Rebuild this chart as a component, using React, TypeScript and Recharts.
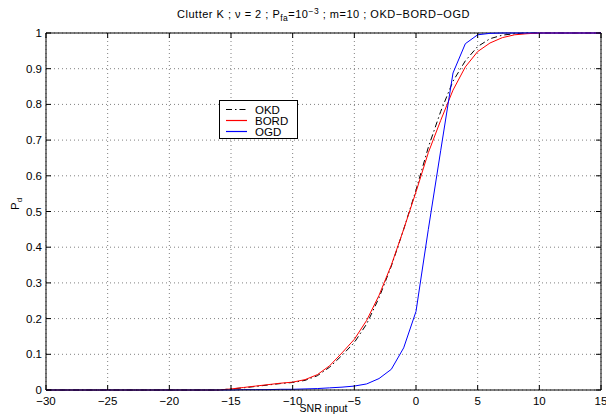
import { LineChart, Line, XAxis, YAxis, CartesianGrid, Legend, ReferenceLine } from "recharts";

// SNR input (dB)
const snr = [
  -30, -29, -28, -27, -26, -25, -24, -23, -22, -21, -20, -19, -18, -17, -16,
  -15, -14, -13, -12, -11, -10, -9, -8, -7, -6, -5, -4, -3, -2, -1,
  0, 1, 2, 3, 4, 5, 6, 7, 8, 9, 10, 11, 12, 13, 14, 15,
];

const okd = [
  0, 0, 0, 0, 0, 0, 0, 0, 0, 0, 0, 0, 0, 0, 0,
  0.003, 0.006, 0.01, 0.014, 0.018, 0.021, 0.027, 0.04, 0.064, 0.097, 0.133, 0.185, 0.258, 0.347, 0.45,
  0.56, 0.68, 0.78, 0.865, 0.922, 0.962, 0.984, 0.994, 0.998, 1, 1, 1, 1, 1, 1, 1,
];

const bord = [
  0, 0, 0, 0, 0, 0, 0, 0, 0, 0, 0, 0, 0, 0, 0,
  0.003, 0.007, 0.011, 0.015, 0.019, 0.022, 0.029, 0.043, 0.068, 0.104, 0.142, 0.195, 0.265, 0.35, 0.45,
  0.555, 0.665, 0.755, 0.84, 0.905, 0.948, 0.972, 0.987, 0.995, 0.998, 1, 1, 1, 1, 1, 1,
];

const ogd = [
  0, 0, 0, 0, 0, 0, 0, 0, 0, 0, 0, 0, 0, 0, 0,
  0, 0.001, 0.001, 0.001, 0.002, 0.002, 0.003, 0.004, 0.006, 0.008, 0.011, 0.017, 0.032, 0.058, 0.118,
  0.22, 0.45, 0.67, 0.888, 0.97, 0.995, 0.999, 1, 1, 1, 1, 1, 1, 1, 1, 1,
];

const xTicks = [-30, -25, -20, -15, -10, -5, 0, 5, 10, 15];
const yTicks = [0, 0.1, 0.2, 0.3, 0.4, 0.5, 0.6, 0.7, 0.8, 0.9, 1];

const series = [
  { key: "okd", name: "OKD", color: "#000000", dash: "6 3 1.5 3" },
  { key: "bord", name: "BORD", color: "#ff0000", dash: undefined },
  { key: "ogd", name: "OGD", color: "#0000ff", dash: undefined },
];

const data = snr.map((x, i) => ({ snr: x, okd: okd[i], bord: bord[i], ogd: ogd[i] }));

const W = 606;
const H = 414;
const X_AXIS_H = 24;
const Y_AXIS_W = 46;
const margin = { top: 33, right: 5, bottom: 0, left: 0 };
const PLOT_TOP = margin.top;
const PLOT_BOTTOM = H - margin.bottom - X_AXIS_H;
const PLOT_LEFT = margin.left + Y_AXIS_W;
const PLOT_RIGHT = W - margin.right;
const FONT = '"Liberation Sans", Arial, Helvetica, sans-serif';
const TICK_FS = 11.5;

const fmt = (v: number) => (v < 0 ? "\u2212" + Math.abs(v) : String(v));

function XTick({ x, y, payload }: any) {
  return (
    <g>
      <line x1={x} x2={x} y1={PLOT_BOTTOM} y2={PLOT_BOTTOM - 5} stroke="#000" />
      <line x1={x} x2={x} y1={PLOT_TOP} y2={PLOT_TOP + 5} stroke="#000" />
      <text x={x} y={y} dy="0.71em" textAnchor="middle" fontSize={TICK_FS} fontFamily={FONT} fill="#000">
        {fmt(payload.value)}
      </text>
    </g>
  );
}

function YTick({ x, y, payload }: any) {
  return (
    <g>
      <line x1={PLOT_LEFT} x2={PLOT_LEFT + 5} y1={y} y2={y} stroke="#000" />
      <line x1={PLOT_RIGHT - 5} x2={PLOT_RIGHT} y1={y} y2={y} stroke="#000" />
      <text x={x} y={y} dy="0.35em" textAnchor="end" fontSize={TICK_FS} fontFamily={FONT} fill="#000">
        {fmt(payload.value)}
      </text>
    </g>
  );
}

function LegendBox() {
  return (
    <svg width={80} height={40} style={{ display: "block" }}>
      <rect x={0.5} y={0.5} width={78} height={38} fill="#fff" stroke="#000" />
      {series.map((s, i) => (
        <g key={s.key}>
          <line x1={7} x2={28} y1={9.5 + i * 11} y2={9.5 + i * 11} stroke={s.color} strokeWidth={1.2} strokeDasharray={s.dash} />
          <text x={36} y={9.5 + i * 11} dy="0.35em" fontSize={11.5} fontFamily={FONT} fill="#000">
            {s.name}
          </text>
        </g>
      ))}
    </svg>
  );
}

export default function App() {
  return (
    <div style={{ position: "absolute", left: 0, top: 0, width: W, height: H, background: "#fff" }}>
      <LineChart width={W} height={H} data={data} margin={margin}>
        <CartesianGrid stroke="#808080" strokeDasharray="1 3" />
        <XAxis
          dataKey="snr"
          type="number"
          domain={[-30, 15]}
          ticks={xTicks}
          interval={0}
          tickSize={0}
          tickMargin={7}
          tick={<XTick />}
          axisLine={{ stroke: "#000" }}
          height={X_AXIS_H}
          label={{ value: "SNR input", position: "insideBottom", offset: 2, fontSize: 10.5, fontFamily: FONT, fill: "#000" }}
        />
        <YAxis
          type="number"
          domain={[0, 1]}
          ticks={yTicks}
          interval={0}
          tickSize={0}
          tickMargin={4}
          tick={<YTick />}
          axisLine={{ stroke: "#000" }}
          width={Y_AXIS_W}
        />
        <ReferenceLine y={1} stroke="#000" />
        <ReferenceLine x={15} stroke="#000" />
        <Legend
          layout="vertical"
          align="center"
          verticalAlign="middle"
          content={<LegendBox />}
          wrapperStyle={{ left: 219, top: 100, width: 80, height: 40 }}
        />
        {series.map((s) => (
          <Line
            key={s.key}
            type="linear"
            dataKey={s.key}
            name={s.name}
            stroke={s.color}
            strokeWidth={1}
            strokeDasharray={s.dash}
            dot={false}
            isAnimationActive={false}
          />
        ))}
      </LineChart>
      <svg width={W} height={H} style={{ position: "absolute", left: 0, top: 0, pointerEvents: "none" }}>
        <text
          x={(PLOT_LEFT + PLOT_RIGHT) / 2}
          y={18}
          textAnchor="middle"
          fontSize={11}
          letterSpacing={0.5}
          fontFamily={FONT}
          fill="#000"
        >
          Clutter K ; ν = 2 ; P<tspan dy={2.5} fontSize={8.5}>fa</tspan>
          <tspan dy={-2.5}>=10</tspan>
          <tspan dy={-4} fontSize={8.5}>−3</tspan>
          <tspan dy={4}> ; m=10 ; OKD−BORD−OGD</tspan>
        </text>
        <text transform="translate(19,210) rotate(-90)" fontSize={11.5} fontFamily={FONT} fill="#000">
          P<tspan dy={2.5} fontSize={8}>d</tspan>
        </text>
      </svg>
    </div>
  );
}
